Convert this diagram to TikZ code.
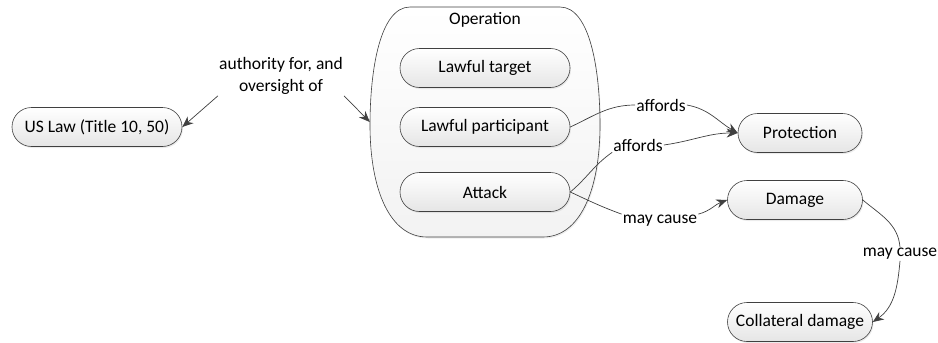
\documentclass[tikz,border=0pt]{standalone}
\usepackage{fontspec}
\setmainfont{Carlito}
\usetikzlibrary{arrows.meta,shadows}
\definecolor{edge}{HTML}{404040}
\tikzset{
  box/.style={rectangle, rounded corners=19.5pt, draw=edge, line width=0.6pt, top color=white, bottom color=black!10,
    minimum height=39pt, inner xsep=6pt, font=\fontsize{17.5}{22}\selectfont,
    drop shadow={shadow xshift=1pt, shadow yshift=-1.5pt, opacity=0.15}},
  lbl/.style={inner sep=1pt, font=\fontsize{17.5}{22}\selectfont, align=center},
  conn/.style={draw=edge, line width=0.7pt},
  arr/.style={conn, -{Stealth[length=11pt,width=9pt]}},
}
\begin{document}
\begin{tikzpicture}[x=1pt,y=-1pt]
\useasboundingbox (0,0) rectangle (938,343);
% container
\node[minimum width=230pt, minimum height=230pt, inner sep=0pt] (op) at (485,122) {};
\draw[draw=edge, line width=0.6pt, top color=white, bottom color=black!5,
      drop shadow={shadow xshift=1pt, shadow yshift=-1.5pt, opacity=0.15}]
  (410,7) -- (560,7)
  .. controls (590,7) and (600,70) .. (600,125)
  .. controls (600,190) and (580,237) .. (543,237)
  -- (427,237)
  .. controls (390,237) and (370,190) .. (370,125)
  .. controls (370,70) and (380,7) .. (410,7) -- cycle;
\node[lbl] (optitle) at (485,20) {Operation};
\node[box, minimum width=170pt] (lt) at (485,68) {Lawful target};
\node[box, minimum width=170pt] (lp) at (485,127) {Lawful participant};
\node[box, minimum width=170pt] (att) at (485,192) {Attack};
\node[box, minimum width=170pt] (law) at (97,127) {US Law (Title 10, 50)};
\node[box, minimum width=124pt] (prot) at (800,133) {Protection};
\node[box, minimum width=135pt] (dmg) at (795,200) {Damage};
\node[box, minimum width=145pt] (col) at (800,322) {Collateral damage};
% labels
\node[lbl] (auth) at (281,76) {authority for, and\\oversight of};
\node[lbl] (aff1) at (661,105) {affords};
\node[lbl] (aff2) at (638,145) {affords};
\node[lbl] (mc1) at (660,221) {may cause};
\node[lbl] (mc2) at (900,254) {may cause};
% connectors
\draw[arr] (auth.south west) -- (law.east);
\draw[arr] (auth.south east) -- (op.west);
\draw[conn] (lp.east) to[out=25,in=180] (aff1.west);
\draw[arr] (aff1.east) to[out=-10,in=150] (prot.west);
\draw[conn] (att.east) to[out=40,in=-145] (aff2.south west);
\draw[arr] (aff2.east) to[out=8,in=180] (prot.west);
\draw[conn] (att.east) to[out=-25,in=160] (mc1.north west);
\draw[arr] (mc1.north east) to[out=15,in=-160] (dmg.west);
\draw[conn] (dmg.east) to[out=-40,in=95] (mc2.north);
\draw[arr] (mc2.south) to[out=-95,in=35] (col.east);
\end{tikzpicture}
\end{document}
